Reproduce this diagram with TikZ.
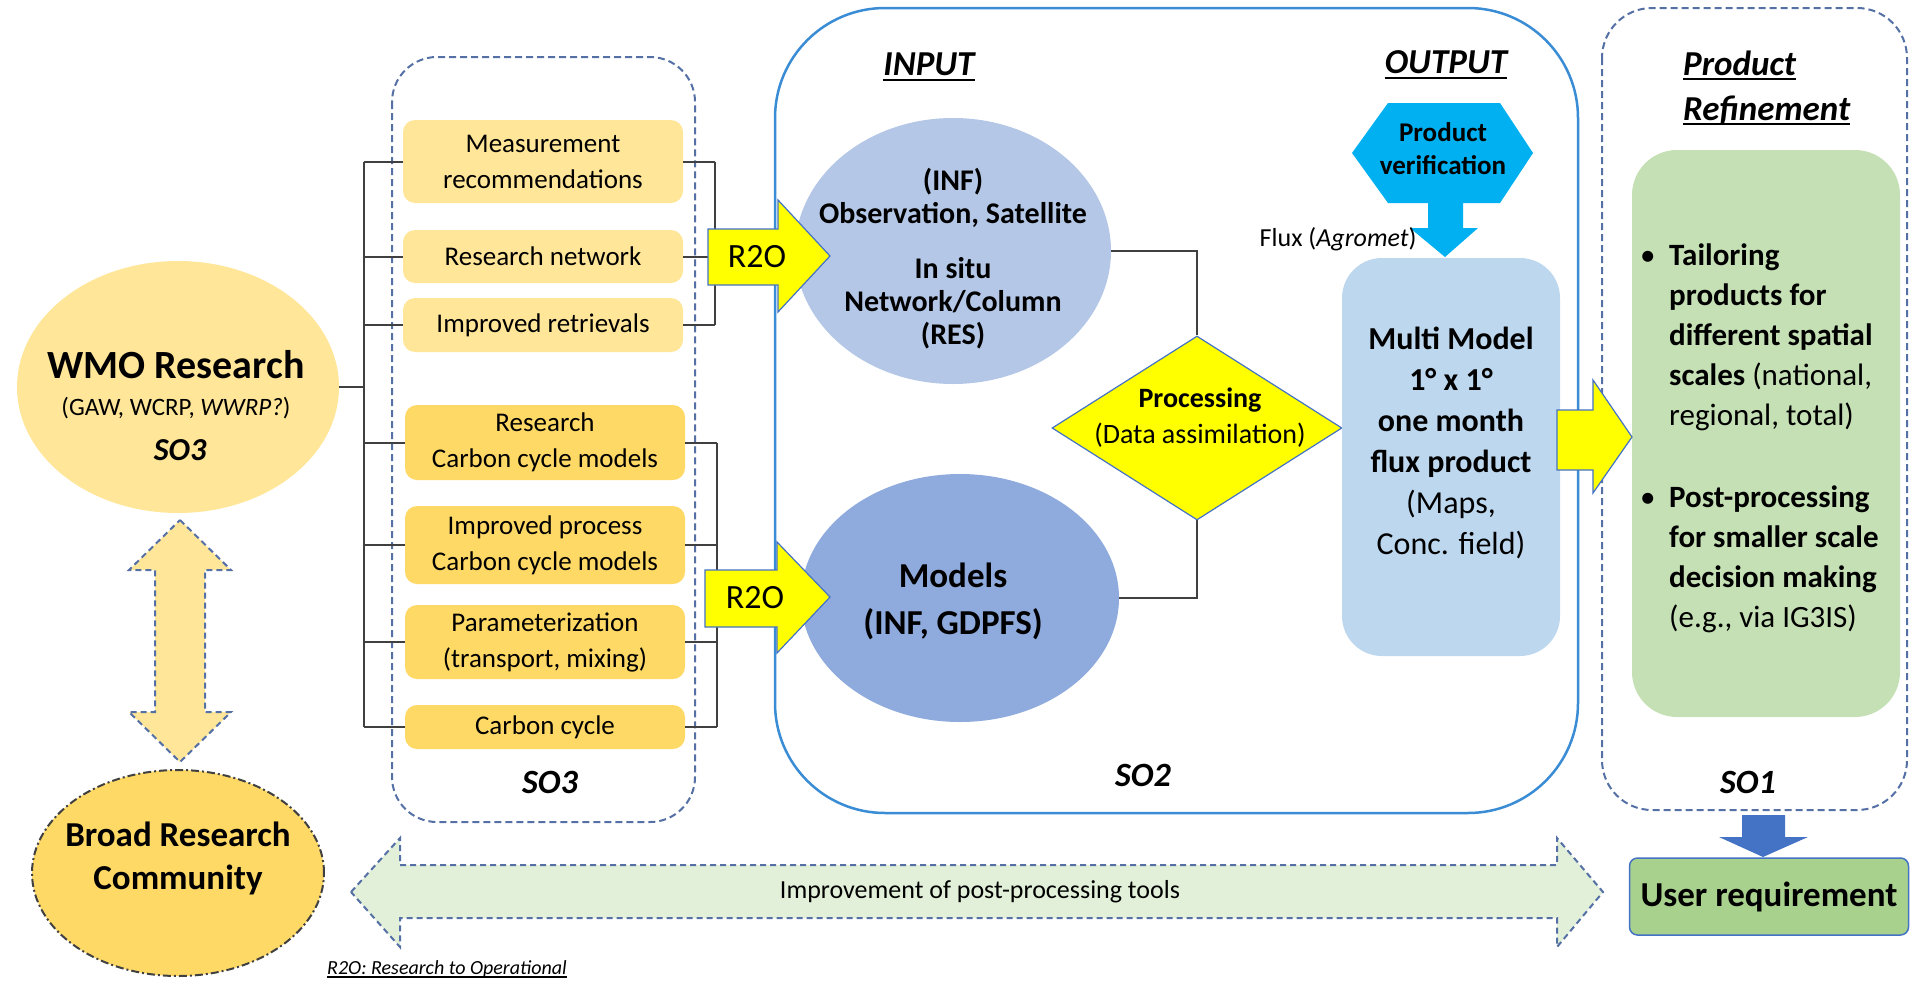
\documentclass[tikz,border=0pt]{standalone}
\usepackage{fontspec}
\setmainfont{Carlito}
\usetikzlibrary{shapes.geometric}
\definecolor{yl1}{HTML}{FFE699}
\definecolor{yl2}{HTML}{FFD966}
\definecolor{infc}{HTML}{B4C7E7}
\definecolor{modc}{HTML}{8FAADC}
\definecolor{mmc}{HTML}{BDD7EE}
\definecolor{hexc}{HTML}{00B0F0}
\definecolor{grn}{HTML}{C5E0B4}
\definecolor{ugrn}{HTML}{A9D18E}
\definecolor{impc}{HTML}{E2F0D9}
\definecolor{ybright}{HTML}{FFFF00}
\definecolor{so2c}{RGB}{58,140,212}
\definecolor{dashc}{RGB}{84,112,165}
\definecolor{arrowb}{RGB}{68,114,196}
\definecolor{linegray}{RGB}{64,64,64}
\definecolor{darrow}{HTML}{4472C4}
\newcommand\ulin[1]{\setbox0=\hbox{#1}\rlap{\rule[-5pt]{\wd0}{2pt}}\box0}
\newcommand\ulfoot[1]{\setbox0=\hbox{#1}\rlap{\rule[-3.5pt]{\wd0}{1.3pt}}\box0}
\tikzset{
  lbox/.style={rounded corners=12pt, minimum width=280pt, inner sep=0pt, align=center, font=\fontsize{27}{36}\selectfont},
  ylight/.style={lbox, fill=yl1},
  ydark/.style={lbox, fill=yl2},
  conn/.style={draw=linegray, line width=2pt},
  dashbox/.style={draw=dashc, line width=2pt, dash pattern=on 7pt off 4pt},
  dasharrow/.style={draw=dashc, line width=2pt, dash pattern=on 6pt off 4pt},
  so2line/.style={draw=so2c, line width=2.5pt},
  blockarrow/.style={fill=ybright, draw=arrowb, line width=1.2pt, line join=miter},
  solbl/.style={font=\fontsize{34}{40}\selectfont\bfseries\itshape},
  ttl/.style={font=\fontsize{35}{45}\selectfont\bfseries\itshape},
}
\begin{document}
\begin{tikzpicture}[x=1pt,y=-1pt]
\useasboundingbox (0,0) rectangle (1911,980);

% containers
\draw[dashbox, rounded corners=45pt] (392,57) rectangle (695,822);
\draw[so2line, rounded corners=110pt] (775,8) rectangle (1578,813);
\draw[dashbox, rounded corners=50pt] (1602,8) rectangle (1907,810);

% left boxes
\node[ylight, minimum height=83pt] (meas) at (543,161.5) {Measurement\\recommendations};
\node[ylight, minimum height=53pt] (net) at (543,256.5) {Research network};
\node[ylight, minimum height=54pt] (retr) at (543,325) {Improved retrievals};
\node[ydark, minimum height=75pt] (rccm) at (545,442.5) {Research\\Carbon cycle models};
\node[ydark, minimum height=78pt] (ipcc) at (545,545) {Improved process\\Carbon cycle models};
\node[ydark, minimum height=74pt] (param) at (545,642) {Parameterization\\(transport, mixing)};
\node[ydark, minimum height=44pt] (cc) at (545,727) {Carbon cycle};

% WMO ellipse
\node[ellipse, fill=yl1, minimum width=322pt, minimum height=252pt, inner sep=0pt] (wmo) at (178,387) {};
\node[font=\fontsize{40}{40}\selectfont\bfseries] (wmoA) at (176,365) {WMO Research};
\node[font=\fontsize{25}{25}\selectfont] (wmoB) at (176,408) {(GAW, WCRP, \textit{WWRP?})};
\node[font=\fontsize{32}{32}\selectfont\bfseries\itshape] (wmoC) at (180,450) {SO3};

% bracket connectors
\coordinate (lsp) at (364,0);
\coordinate (rsp1) at (715,0);
\coordinate (rsp2) at (717,0);
\draw[conn] (meas.west -| lsp) -- (cc.west -| lsp);
\foreach \n in {meas,net,retr,rccm,ipcc,param,cc} \draw[conn] (\n.west) -- (\n.west -| lsp);
\draw[conn] (wmo.east) -- (wmo.east -| lsp);
\draw[conn] (meas.east -| rsp1) -- (retr.east -| rsp1);
\foreach \n in {meas,net,retr} \draw[conn] (\n.east) -- (\n.east -| rsp1);
\draw[conn] (rccm.east -| rsp2) -- (cc.east -| rsp2);
\foreach \n in {rccm,ipcc,param,cc} \draw[conn] (\n.east) -- (\n.east -| rsp2);

% Broad research community
\node[ellipse, fill=yl2, draw=linegray, line width=2pt, dash pattern=on 8pt off 3pt on 2pt off 3pt, minimum width=292pt, minimum height=206pt, inner sep=0pt] (broad) at (178,873) {};
\node[font=\fontsize{35}{43}\selectfont\bfseries, align=center] (broadt) at (178,858) {Broad Research\\Community};

% vertical double arrow
\draw[dasharrow, fill=yl1] (180,520) -- (231,570) -- (205,570) -- (205,712) -- (231,712) -- (180,762) -- (129,712) -- (155,712) -- (155,570) -- (129,570) -- cycle;

% INPUT ellipses
\node[ellipse, fill=infc, minimum width=316pt, minimum height=266pt, inner sep=0pt] (inf) at (953,251) {};
\node[font=\fontsize{30}{33}\selectfont\bfseries, align=center] (inft) at (953,259) {(INF)\\Observation, Satellite\\[22pt]In situ\\Network/Column\\(RES)};
\node[ellipse, fill=modc, minimum width=318pt, minimum height=248pt, inner sep=0pt] (models) at (960,598) {};
\node[font=\fontsize{35}{47}\selectfont\bfseries, align=center] (modelst) at (953,601) {Models\\(INF, GDPFS)};

% processing diamond
\draw[conn] (inf.east) -| (1197,335);
\draw[conn] (models.east) -| (1197,520);
\node[diamond, fill=ybright, draw=arrowb, line width=1.2pt, minimum width=290pt, minimum height=184pt, inner sep=0pt] (proc) at (1197,428) {};
\node[font=\fontsize{28}{36}\selectfont, align=center] (proct) at (1200,418) {\textbf{Processing}\\(Data assimilation)};

% R2O arrows
\draw[blockarrow] (708,229) -- (778,229) -- (778,200) -- (830,256) -- (778,312) -- (778,285) -- (708,285) -- cycle;
\node[font=\fontsize{34}{34}\selectfont] (r2oa) at (757,257) {R2O};
\draw[blockarrow] (705,570) -- (777,570) -- (777,542) -- (830,597) -- (777,653) -- (777,627) -- (705,627) -- cycle;
\node[font=\fontsize{34}{34}\selectfont] (r2ob) at (755,598) {R2O};

% output
\node[rectangle, rounded corners=40pt, fill=mmc, minimum width=218pt, minimum height=398pt, inner sep=0pt] (multi) at (1451,457) {};
\node[font=\fontsize{32}{41}\selectfont, align=center] (multit) at (1451,443) {\textbf{Multi Model}\\\textbf{1° x 1°}\\\textbf{one month}\\\textbf{flux product}\\(Maps,\\Conc. field)};
\fill[hexc] (1352,153) -- (1388,103) -- (1500,103) -- (1533,153) -- (1500,203) -- (1388,203) -- cycle;
\node[font=\fontsize{27}{33}\selectfont\bfseries, align=center] (pver) at (1443,149) {Product\\verification};
\fill[hexc] (1428,200) -- (1463,200) -- (1463,228) -- (1478,228) -- (1445,257) -- (1410,228) -- (1428,228) -- cycle;
\node[font=\fontsize{26}{26}\selectfont, anchor=east] (flux) at (1420,239) {Flux (\textit{Agromet})};

% product refinement
\node[rectangle, rounded corners=45pt, fill=grn, minimum width=268pt, minimum height=567pt, inner sep=0pt] (refine) at (1766,433.5) {};
\node[anchor=west, align=left, inner sep=0pt, font=\fontsize{31}{40}\selectfont] (bullets) at (1640,438) {%
\makebox[29pt][l]{\textbullet}\textbf{Tailoring}\\
\hspace*{29pt}\textbf{products for}\\
\hspace*{29pt}\textbf{different spatial}\\
\hspace*{29pt}\textbf{scales} (national,\\
\hspace*{29pt}regional, total)\\[42pt]
\makebox[29pt][l]{\textbullet}\textbf{Post-processing}\\
\hspace*{29pt}\textbf{for smaller scale}\\
\hspace*{29pt}\textbf{decision making}\\
\hspace*{29pt}(e.g., via IG3IS)};
\draw[blockarrow] (1557,410) -- (1593,410) -- (1593,380) -- (1632,437) -- (1593,493) -- (1593,470) -- (1557,470) -- cycle;

% user requirement
\fill[darrow] (1742,815) -- (1785,815) -- (1785,837) -- (1808,837) -- (1763,857) -- (1719,837) -- (1742,837) -- cycle;
\node[rectangle, rounded corners=8pt, fill=ugrn, draw=arrowb, line width=1.5pt, minimum width=279pt, minimum height=77pt, inner sep=0pt, font=\fontsize{35}{35}\selectfont\bfseries] (user) at (1769,896.5) {User requirement};

% improvement arrow
\draw[dasharrow, fill=impc] (351,892) -- (400,838) -- (400,865) -- (1557,865) -- (1557,838) -- (1603,892) -- (1557,947) -- (1557,918) -- (400,918) -- (400,947) -- cycle;
\node[font=\fontsize{26}{26}\selectfont] (impt) at (980,892) {Improvement of post-processing tools};

% labels
\node[ttl] (inputl) at (929,67) {\ulin{INPUT}};
\node[ttl] (outputl) at (1446,65) {\ulin{OUTPUT}};
\node[ttl, anchor=west, align=left, inner sep=0pt] (prl) at (1683,88) {\ulin{Product}\\\ulin{Refinement}};
\node[solbl] (so3) at (550,782) {SO3};
\node[solbl] (so2) at (1143,775) {SO2};
\node[solbl] (so1) at (1748,782) {SO1};
\node[anchor=west, font=\fontsize{20}{20}\selectfont\itshape, inner sep=0pt] (fn) at (327,969) {\ulfoot{R2O: Research to Operational}};
\end{tikzpicture}
\end{document}
